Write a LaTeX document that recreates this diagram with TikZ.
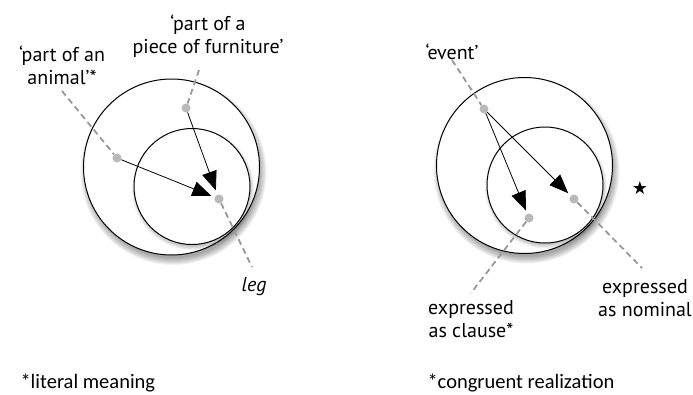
\documentclass[tikz,border=0pt]{standalone}
\usepackage{fontspec}
\setmainfont{PT Sans}
\newfontfamily\notefont{Carlito}
\newfontfamily\symfont{DejaVu Sans}
\usetikzlibrary{arrows.meta}
\tikzset{ring/.style={draw,line width=1pt,fill=white},
  haze/.style={fill=black,opacity=0.05},
  dot/.style={circle,fill=gray!55,inner sep=0pt,minimum size=9pt},
  lead/.style={gray!80,line width=1.8pt,dash pattern=on 6pt off 4pt},
  arr/.style={-{Triangle[length=19pt,width=15pt]},line width=0.8pt,shorten >=3.5pt},
  lbl/.style={align=center,font=\fontsize{20}{23}\selectfont},
  note/.style={anchor=west,font=\notefont\fontsize{20.5}{24}\selectfont}}

\begin{document}
\begin{tikzpicture}[x=1pt,y=-1pt]
\useasboundingbox (0,0) rectangle (693,394);
% nested circles, soft shadow underneath
\foreach \cx/\cy in {171.5/167,524.5/165.5}{
 \foreach \k in {0,...,7} \fill[haze] (\cx+2,\cy+5) circle ({(86+\k)*1pt});
 \draw[ring] (\cx,\cy) circle (88pt);
 \foreach \k in {0,...,5} \fill[haze] (\cx+21.5,\cy+22) circle ({(56+\k)*1pt});
 \draw[ring] (\cx+20.5,\cy+19.5) circle (58pt);
}
% literal meaning
\node[lbl] (animal-l) at (62,65) {`part of an\\animal'*};
\node[lbl] (furn-l) at (208,36) {`part of a\\piece of furniture'};
\node[lbl,font=\fontsize{20}{23}\selectfont\itshape] (leg-l) at (254,287) {leg};
\coordinate (animal-e) at (62,91);
\coordinate (furn-e) at (199,70);
\coordinate (leg-e) at (252,267);
\node[dot] (animal) at (117,158) {};
\node[dot] (furn) at (186,108) {};
\node[dot] (leg) at (219,199) {};
\draw[lead] (animal-e) -- (animal);
\draw[lead] (furn-e) -- (furn);
\draw[lead] (leg) -- (leg-e);
\draw[arr,shorten >=4.5pt] (furn) -- (leg);
\draw[arr] (animal) -- (leg);
\node[note] (note-a) at (17,383) {*literal meaning};
% congruent realization
\node[lbl] (event-l) at (452,52) {`event'};
\node[lbl] (clause-l) at (471,319) {expressed\\as clause*};
\node[lbl] (nominal-l) at (645,298) {expressed\\as nominal};
\node[font=\symfont\fontsize{18}{18}\selectfont] (star) at (640,188) {★};
\coordinate (event-e) at (452,60);
\coordinate (clause-e) at (471,293);
\coordinate (nominal-e) at (642,268);
\node[dot] (event) at (484,109) {};
\node[dot] (clause) at (529,218) {};
\node[dot] (nominal) at (574,199) {};
\draw[lead] (event-e) -- (event);
\draw[lead] (clause) -- (clause-e);
\draw[lead] (nominal) -- (nominal-e);
\draw[arr] (event) -- (clause);
\draw[arr] (event) -- (nominal);
\node[note] (note-b) at (424,383) {*congruent realization};
\end{tikzpicture}
\end{document}
